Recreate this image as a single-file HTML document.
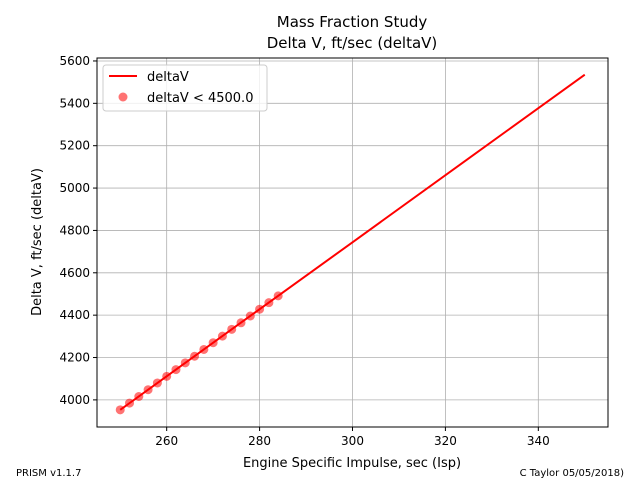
<!DOCTYPE html>
<html><head><meta charset="utf-8"><style>
body{margin:0;background:#fff}
svg{font-family:"DejaVu Sans","Liberation Sans",sans-serif}
</style></head><body>
<svg id="chart" width="640" height="480" viewBox="0 0 640 480">
<text x="352" y="27" font-size="15" text-anchor="middle">Mass Fraction Study</text>
<text x="352" y="48" font-size="15" text-anchor="middle">Delta V, ft/sec (deltaV)</text>
<g id="grid"></g>
<g id="marks"></g>
<rect x="97" y="58" width="511" height="369" fill="none" stroke="#000" stroke-width="1"/>
<g id="ticks"></g>
<text x="352" y="467" font-size="13" text-anchor="middle">Engine Specific Impulse, sec (Isp)</text>
<text transform="translate(41,242) rotate(-90)" font-size="13" text-anchor="middle">Delta V, ft/sec (deltaV)</text>
<text x="16" y="476" font-size="10">PRISM v1.1.7</text>
<text x="624" y="476" font-size="10" text-anchor="end">C Taylor 05/05/2018)</text>
<g>
<rect x="103" y="65" width="164" height="46" rx="3" fill="#fff" fill-opacity="0.8" stroke="#ccc"/>
<line x1="109" y1="76" x2="137" y2="76" stroke="red" stroke-width="2"/>
<text x="147" y="81" font-size="13">deltaV</text>
<circle cx="123" cy="97" r="4.5" fill="red" fill-opacity="0.55"/>
<text x="147" y="102" font-size="13">deltaV &lt; 4500.0</text>
</g>
</svg>
<script>
const lineIsp=[250,275,300,325,350];
const lineDV=[3953,4349,4744,5140,5535];
const ptIsp=[250,252,254,256,258,260,262,264,266,268,270,272,274,276,278,280,282,284];
const ptDV=[3953,3985,4016,4048,4080,4111,4143,4175,4206,4238,4270,4301,4333,4364,4396,4428,4459,4491];
const xTicks=[260,280,300,320,340];
const yTicks=[4000,4200,4400,4600,4800,5000,5200,5400,5600];
const NS="http://www.w3.org/2000/svg";
const L=97,R=608,T=58,B=427;
const xMin=245,xMax=355,yMin=3872,yMax=5614;
const sx=v=>L+(v-xMin)/(xMax-xMin)*(R-L);
const sy=v=>B-(v-yMin)/(yMax-yMin)*(B-T);
function mk(tag,attrs,parent){const e=document.createElementNS(NS,tag);for(const k in attrs)e.setAttribute(k,attrs[k]);parent.appendChild(e);return e;}
const grid=document.getElementById('grid'),ticks=document.getElementById('ticks'),marks=document.getElementById('marks');
xTicks.forEach(v=>{const x=sx(v);
 const g=mk('line',{x1:x,x2:x,y1:T,y2:B,stroke:'#b0b0b0','stroke-width':0.8},grid);
 
 
 const t=mk('line',{x1:x,x2:x,y1:B,y2:B+4,stroke:'#000'},ticks);
 
 
 const l=mk('text',{x:x,y:B+18,'font-size':12,'text-anchor':'middle'},ticks);l.textContent=v;
 
 
});
yTicks.forEach(v=>{const y=sy(v);
 const g=mk('line',{x1:L,x2:R,y1:y,y2:y,stroke:'#b0b0b0','stroke-width':0.8},grid);
 
 
 const t=mk('line',{x1:L-4,x2:L,y1:y,y2:y,stroke:'#000'},ticks);
 
 
 const l=mk('text',{x:L-7,y:y+4,'font-size':12,'text-anchor':'end'},ticks);l.textContent=v;
 
 
});
const pl=mk('polyline',{points:lineIsp.map((v,i)=>sx(v)+','+sy(lineDV[i])).join(' '),fill:'none',stroke:'red','stroke-width':2},marks);


ptIsp.forEach((v,i)=>{const c=mk('circle',{cx:sx(v),cy:sy(ptDV[i]),r:4.5,fill:'red','fill-opacity':0.55},marks);
 
 
});
</script>
</body></html>
